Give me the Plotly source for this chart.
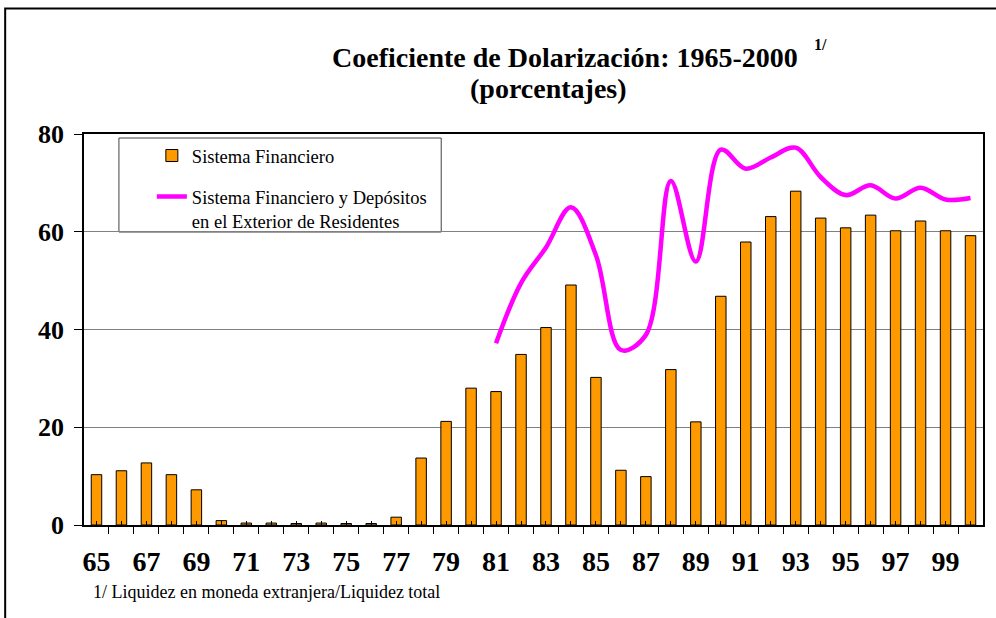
import plotly.graph_objects as go

# ---------------- data ----------------
years = list(range(1965, 2001))
sistema_financiero = [10.3, 11.1, 12.7, 10.3, 7.2, 0.9, 0.4, 0.4, 0.3, 0.4, 0.3, 0.3, 1.6,
                      13.7, 21.2, 28.0, 27.3, 34.9, 40.4, 49.1, 30.2, 11.2, 9.9, 31.8, 21.1,
                      46.8, 57.9, 63.1, 68.3, 62.8, 60.8, 63.4, 60.2, 62.2, 60.2, 59.2]
years_ext = list(range(1981, 2001))
sistema_y_exterior = [37.2, 49.5, 56.8, 65.0, 55.2, 35.8, 38.9, 70.4, 53.9, 76.8,
                      72.9, 75.2, 77.2, 71.2, 67.5, 69.5, 66.8, 69.0, 66.6, 66.9]
label_years = list(range(1965, 2000, 2))
tick_labels = ["65", "67", "69", "71", "73", "75", "77", "79", "81", "83",
               "85", "87", "89", "91", "93", "95", "97", "99"]
y_ticks = [0, 20, 40, 60, 80]

FONT = "Liberation Serif, Times New Roman, serif"

label_map = dict(zip(label_years, tick_labels))
ticktext = [label_map.get(y, "") for y in years]
boundaries = [y - 0.5 for y in years] + [years[-1] + 0.5]

fig = go.Figure()
fig.add_trace(go.Bar(
    x=years, y=sistema_financiero, name="Sistema Financiero",
    width=0.42, marker=dict(color="#FF9900", line=dict(color="#000000", width=1)),
    legendgroup="a",
))
fig.add_trace(go.Scatter(
    x=years_ext, y=sistema_y_exterior, mode="lines",
    name="Sistema Financiero y Depósitos<br>en el Exterior de Residentes",
    line=dict(color="#FF00FF", width=4.5, shape="spline", smoothing=1.0),
    legendgroup="b",
))

W, H = 996, 618
L, R, T, B = 84, 11, 134, 93
pw, ph = W - L - R, H - T - B

def px(x):
    return (x - L) / pw

def py(y):
    return (H - B - y) / ph

fig.update_layout(
    width=W, height=H,
    margin=dict(l=L, r=R, t=T, b=B),
    paper_bgcolor="white", plot_bgcolor="white",
    font=dict(family=FONT, color="black"),
    showlegend=True,
    legend=dict(
        x=px(152), y=py(137), xanchor="left", yanchor="top",
        bgcolor="rgba(0,0,0,0)", borderwidth=0,
        font=dict(family=FONT, size=18.5, color="black"),
        tracegroupgap=14, valign="top",
    ),
    bargap=0.5,
)

fig.update_xaxes(
    range=[years[0] - 0.5, years[-1] + 0.5],
    tickmode="array", tickvals=years, ticktext=ticktext,
    ticks="inside", ticklen=4, tickcolor="black", tickwidth=1,
    minor=dict(tickmode="array", tickvals=boundaries, ticks="outside",
               ticklen=7, tickcolor="black", tickwidth=1, showgrid=False),
    showline=True, linecolor="black", linewidth=1.5, mirror=True,
    showgrid=False, zeroline=False,
    tickfont=dict(family=FONT, size=28, color="black", weight="bold"),
    ticklabelstandoff=11,
)
fig.update_yaxes(
    range=[0, 80], tickmode="array", tickvals=y_ticks,
    ticks="outside", ticklen=8, tickcolor="black",
    showline=True, linecolor="black", linewidth=1.5, mirror=True,
    showgrid=True, gridcolor="#808080", gridwidth=1, zeroline=False,
    tickfont=dict(family=FONT, size=26, color="black", weight="bold"),
    ticklabelstandoff=5,
)

shapes = [
    # legend box
    dict(type="rect", xref="paper", yref="paper",
         x0=px(119), x1=px(442), y0=py(232), y1=py(138),
         line=dict(color="#404040", width=1), fillcolor="white", layer="below"),
    # outer frame
    dict(type="rect", xref="paper", yref="paper",
         x0=px(5), x1=px(1010), y0=py(640), y1=py(8.5),
         line=dict(color="black", width=2), fillcolor="rgba(0,0,0,0)"),
]
fig.update_layout(shapes=shapes)

annotations = [
    dict(text="<b>Coeficiente de Dolarización: 1965-2000</b>", x=px(566), y=py(57),
         xref="paper", yref="paper", xanchor="center", yanchor="middle",
         showarrow=False, font=dict(family=FONT, size=28, color="black")),
    dict(text="<b>(porcentajes)</b>", x=px(550), y=py(89),
         xref="paper", yref="paper", xanchor="center", yanchor="middle",
         showarrow=False, font=dict(family=FONT, size=28, color="black")),
    dict(text="<b>1/</b>", x=px(822), y=py(45),
         xref="paper", yref="paper", xanchor="center", yanchor="middle",
         showarrow=False, font=dict(family=FONT, size=16, color="black")),
    dict(text="1/ Liquidez en moneda extranjera/Liquidez total", x=px(91), y=py(591.5),
         xref="paper", yref="paper", xanchor="left", yanchor="middle",
         showarrow=False, font=dict(family=FONT, size=18, color="black")),
]
fig.update_layout(annotations=annotations)

fig.write_html("out.html",
               config={"displayModeBar": False},
               post_script="document.body.style.margin='0';document.body.style.overflow='hidden';")
